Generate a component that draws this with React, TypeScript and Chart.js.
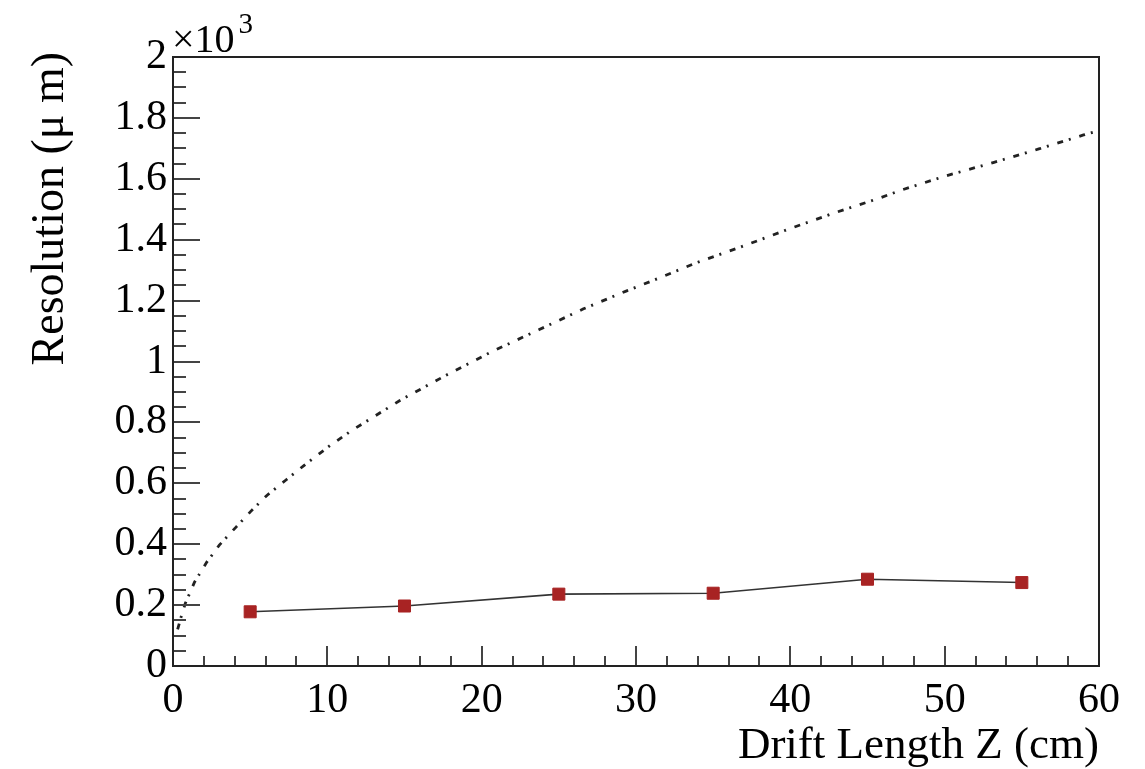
import React, { useEffect, useRef } from 'react';
import { Chart, registerables } from 'chart.js';

Chart.register(...registerables);

// Measured resolution points (µm) vs drift length Z (cm)
const pointZ = [5, 15, 25, 35, 45, 55];
const pointResolution = [178, 197, 236, 239, 285, 274];

// Dash-dotted reference curve
const curveZ = [0.3, 0.56, 0.8, 1.4, 2.2, 3.0, 4.1, 5.1, 6.1, 7.3, 8.5, 10.2, 11.6, 14.7, 17.7, 20.6, 23.7, 26.6, 29.4, 31.0, 33.9, 37.0, 39.9, 42.8, 45.8, 47.2, 50.1, 53.2, 56.1, 59.0, 60.0];
const curveResolution = [120, 167, 206, 276, 342, 397, 457, 511, 561, 610, 659, 725, 774, 872, 955, 1031, 1104, 1173, 1232, 1264, 1324, 1380, 1435, 1487, 1537, 1563, 1610, 1654, 1698, 1744, 1758];

const xTickLabels = ['0', '10', '20', '30', '40', '50', '60'];
const yTickLabels = ['0', '0.2', '0.4', '0.6', '0.8', '1', '1.2', '1.4', '1.6', '1.8', '2'];
const xTitle = 'Drift Length Z (cm)';
const yTitle = 'Resolution (\u03bc m)';

const W = 1145;
const H = 769;
const FONT = "'Liberation Serif', 'Times New Roman', serif";

export default function App() {
  const ref = useRef<HTMLCanvasElement>(null);

  useEffect(() => {
    const canvas = ref.current;
    if (!canvas) return;

    const framePlugin = {
      id: 'rootFrame',
      afterDatasetsDraw(chart: any) {
        const { ctx, chartArea: a, scales } = chart;
        const xs = scales.x;
        const ys = scales.y;
        ctx.save();
        // inner ticks
        ctx.strokeStyle = '#444';
        ctx.lineWidth = 2;
        ctx.beginPath();
        for (let v = 0; v <= 2000; v += 50) {
          const y = Math.round(ys.getPixelForValue(v));
          const len = v % 200 === 0 ? 27 : 13;
          ctx.moveTo(a.left, y);
          ctx.lineTo(a.left + len, y);
        }
        for (let v = 0; v <= 60; v += 2) {
          const x = Math.round(xs.getPixelForValue(v));
          const len = v % 10 === 0 ? 20 : 10;
          ctx.moveTo(x, a.bottom);
          ctx.lineTo(x, a.bottom - len);
        }
        ctx.stroke();
        // frame
        ctx.strokeStyle = '#222';
        ctx.lineWidth = 2;
        ctx.strokeRect(a.left, a.top, a.right - a.left, a.bottom - a.top);

        // axis titles
        ctx.fillStyle = '#000';
        ctx.font = `45px ${FONT}`;
        ctx.textAlign = 'right';
        ctx.textBaseline = 'alphabetic';
        ctx.fillText(xTitle, a.right, 758);
        ctx.save();
        ctx.translate(63, 52);
        ctx.rotate(-Math.PI / 2);
        ctx.font = `46px ${FONT}`;
        ctx.fillText(yTitle, 0, 0);
        ctx.restore();

        // x10^3 exponent
        ctx.textAlign = 'left';
        ctx.font = `40px ${FONT}`;
        ctx.fillText('\u00d710', a.left - 1, 52);
        const w = ctx.measureText('\u00d710').width;
        ctx.font = `29px ${FONT}`;
        ctx.fillText('3', a.left + w + 3, 33);
        ctx.restore();
      },
    };

    const chart = new Chart(canvas, {
      type: 'scatter',
      data: {
        datasets: [
          {
            data: curveZ.map((x, i) => ({ x, y: curveResolution[i] })),
            showLine: true,
            borderColor: '#222',
            borderWidth: 2.8,
            borderDash: [6, 6, 2, 9],
            pointRadius: 0,
            fill: false,
          },
          {
            data: pointZ.map((x, i) => ({ x, y: pointResolution[i] })),
            showLine: true,
            borderColor: '#333',
            borderWidth: 1.6,
            pointStyle: 'rect',
            pointRadius: 8.5,
            pointBackgroundColor: '#a82323',
            pointBorderColor: '#a82323',
            pointBorderWidth: 1,
          },
        ],
      },
      options: {
        animation: false,
        responsive: false,
        events: [],
        layout: { padding: { top: 57, right: 46, left: 0, bottom: 0 } },
        plugins: { legend: { display: false }, tooltip: { enabled: false } },
        scales: {
          x: {
            type: 'linear',
            min: 0,
            max: 60,
            afterFit: (s: any) => { s.height = 103; },
            grid: { display: false, drawTicks: false },
            border: { display: false },
            ticks: {
              stepSize: 10,
              padding: 10,
              color: '#000',
              maxRotation: 0,
              autoSkip: false,
              font: { family: FONT, size: 42 },
              callback: (v: any) => xTickLabels[Math.round(Number(v) / 10)] ?? '',
            },
          },
          y: {
            type: 'linear',
            min: 0,
            max: 2000,
            afterFit: (s: any) => { s.width = 173; },
            grid: { display: false, drawTicks: false },
            border: { display: false },
            ticks: {
              stepSize: 200,
              padding: 6,
              color: '#000',
              autoSkip: false,
              font: { family: FONT, size: 42 },
              callback: (v: any) => yTickLabels[Math.round(Number(v) / 200)] ?? '',
            },
          },
        },
      },
      plugins: [framePlugin],
    } as any);

    return () => chart.destroy();
  }, []);

  return (
    <div style={{ position: 'fixed', left: 0, top: 0, width: W, height: H, background: '#fff' }}>
      <canvas ref={ref} width={W} height={H} style={{ display: 'block', width: W, height: H }} />
    </div>
  );
}
